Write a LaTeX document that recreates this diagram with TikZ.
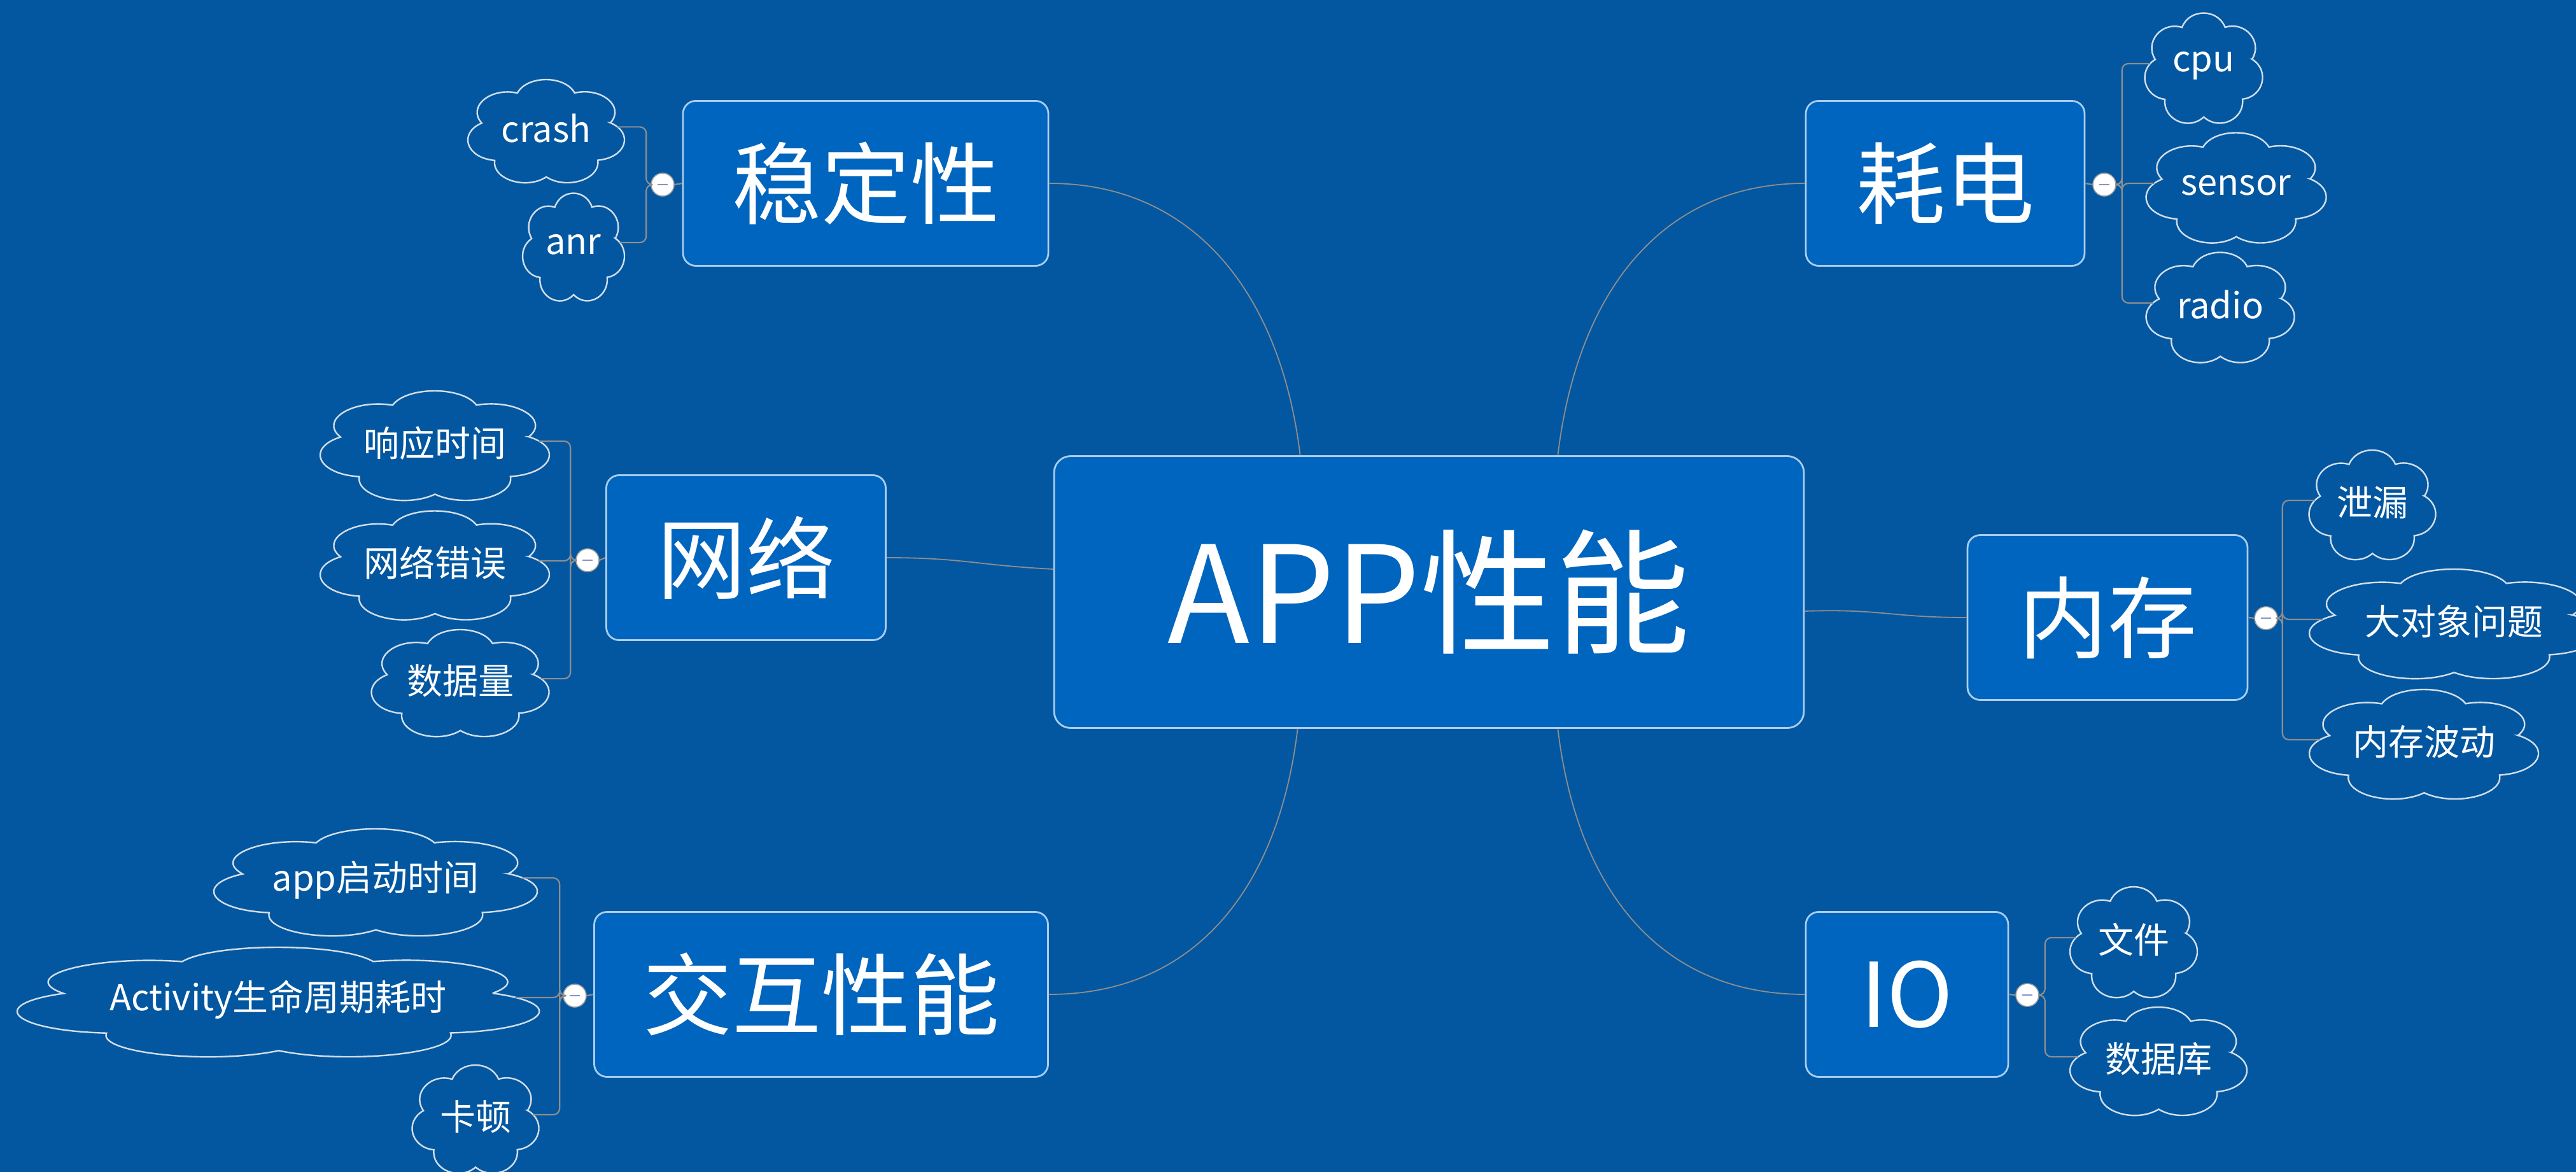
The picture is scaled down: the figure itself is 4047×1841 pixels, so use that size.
\documentclass[tikz,border=0pt]{standalone}
\usepackage{fontspec}
\setmainfont{Noto Sans CJK SC}
\definecolor{bg}{HTML}{0357A0}
\definecolor{boxfill}{HTML}{0065BE}
\definecolor{boxline}{HTML}{A9CDEF}
\definecolor{cloudline}{HTML}{D3DEEA}
\definecolor{conn}{HTML}{8E8E8E}
\definecolor{minuscol}{HTML}{8A93C4}
% #1 name, #2 cx, #3 cy, #4 width px, #5 height px, #6 text
\newcommand{\cloudshape}[6]{%
  \pgfmathsetmacro\clhx{#4/1.969*0.25}%
  \pgfmathsetmacro\clhy{#5/1.939*0.25}%
  \pgfmathsetmacro\cloy{#3+0.01573*#5}%
  \begin{scope}[shift={(#2,\cloy)}, x=\clhx pt, y=\clhy pt]
    \draw[cloudstyle] (13:0.83) \foreach \k in {1,...,7} {
      .. controls +({13+(\k-0.5)*51.4286+20}:0.3579) and +({13+(\k-0.5)*51.4286-20}:0.3579) .. ({13+\k*51.4286}:0.83) } -- cycle;
    \coordinate (#1-e) at (0.894,0.11);
    \coordinate (#1-w) at (-0.894,0.11);
  \end{scope}
  \node[subtext] (#1) at (#2,#3-4) {#6};
}
\begin{document}
\begin{tikzpicture}[x=0.25pt,y=-0.25pt,
  mainbox/.style={draw=boxline, line width=0.7pt, fill=boxfill, rounded corners=6.5pt,
    text=white, inner sep=0pt, minimum width=294.5pt, minimum height=106.75pt,
    font=\fontsize{53}{60}\selectfont},
  topicbox/.style={draw=boxline, line width=0.7pt, fill=boxfill, rounded corners=5pt,
    text=white, inner sep=0pt, minimum height=64.75pt, font=\fontsize{35}{40}\selectfont},
  subtext/.style={text=white, inner sep=0pt, font=\fontsize{14}{16}\selectfont},
  cloudstyle/.style={draw=cloudline, line width=0.6pt},
  toggle/.style={circle, draw=gray!75, fill=white, line width=0.4pt, minimum size=9pt, inner sep=0pt,
    path picture={\draw[minuscol, line width=0.7pt]
      ([xshift=-1.9pt]path picture bounding box.center) -- ([xshift=1.9pt]path picture bounding box.center);}},
  mainconn/.style={draw=conn, line width=0.45pt},
  brk/.style={draw=conn, line width=0.55pt, rounded corners=2.5pt}
]
\useasboundingbox (0,0) rectangle (4047,1841);
\clip (0,0) rectangle (4047,1841);
\fill[bg] (0,0) rectangle (4047,1841);

% central node
\node[mainbox] (c) at (2245,930) {APP性能};

% topic boxes
\node[topicbox, minimum width=143.5pt] (s)  at (1360,288)  {稳定性};
\node[topicbox, minimum width=109.5pt] (h)  at (3056,288)  {耗电};
\node[topicbox, minimum width=109.75pt] (w) at (1172,876)  {网络};
\node[topicbox, minimum width=110pt] (n)    at (3311,970)  {内存};
\node[topicbox, minimum width=178.25pt] (j) at (1290,1562) {交互性能};
\node[topicbox, minimum width=79.5pt] (io)  at (2996,1562) {IO};

% main connectors
\draw[mainconn] (s.east) .. controls +(230,0) and +(-30,-250) .. ([xshift=97pt]c.north west);
\draw[mainconn] (h.west) .. controls +(-230,0) and +(30,-250) .. ([xshift=-97pt]c.north east);
\draw[mainconn] (j.east) .. controls +(230,0) and +(-30,250) .. ([xshift=96pt]c.south west);
\draw[mainconn] (io.west) .. controls +(-230,0) and +(30,250) .. ([xshift=-97pt]c.south east);
\draw[mainconn] (w.east) .. controls +(120,0) and +(-120,-6) .. ([yshift=9pt]c.west);
\draw[mainconn] (n.west) .. controls +(-120,0) and +(120,-4) .. ([yshift=-7.5pt]c.east);

% clouds
\cloudshape{crash}{858}{206}{246}{162}{crash}
\cloudshape{anr}{901}{388}{160}{169}{anr}
\cloudshape{xy}{683}{700}{360}{172}{响应时间}
\cloudshape{wc}{683}{888}{360}{171}{网络错误}
\cloudshape{sjl}{723}{1073}{279}{168}{数据量}
\cloudshape{app}{590}{1386}{508}{168}{app启动时间}
\cloudshape{act}{437}{1574}{820}{172}{Activity生命周期耗时}
\cloudshape{kd}{747}{1758}{199}{170}{卡顿}
\cloudshape{cpu}{3462}{107}{185}{173}{cpu}
\cloudshape{sensor}{3513}{295}{283}{173}{sensor}
\cloudshape{radio}{3488}{483}{233}{173}{radio}
\cloudshape{xl}{3727}{793}{199}{172}{泄漏}
\cloudshape{ddx}{3855}{980}{454}{172}{大对象问题}
\cloudshape{ncbd}{3808}{1169}{360}{172}{内存波动}
\cloudshape{wj}{3352}{1480}{200}{174}{文件}
\cloudshape{sjk}{3391}{1667}{278}{170}{数据库}

% toggles
\node[toggle] (st) at (1041,290) {};
\node[toggle] (wt) at (923,880) {};
\node[toggle] (jt) at (903,1564) {};
\node[toggle] (ht) at (3306,290) {};
\node[toggle] (nt) at (3560,971) {};
\node[toggle] (iot) at (3185,1563) {};

% box to toggle
\draw[brk] (s.west) -- (st.east);
\draw[brk] (w.west) -- (wt.east);
\draw[brk] (j.west) -- (jt.east);
\draw[brk] (h.east) -- (ht.west);
\draw[brk] (n.east) -- (nt.west);
\draw[brk] (io.east) -- (iot.west);

% brackets
\draw[brk] (st.west) -- ++(-7,0) |- (crash-e);
\draw[brk] (st.west) -- ++(-7,0) |- (anr-e);
\draw[brk] (wt.west) -- ++(-8,0) |- (xy-e);
\draw[brk] (wt.west) -- ++(-8,0) |- (wc-e);
\draw[brk] (wt.west) -- ++(-8,0) |- (sjl-e);
\draw[brk] (jt.west) -- ++(-5,0) |- (app-e);
\draw[brk] (jt.west) -- ++(-5,0) |- (act-e);
\draw[brk] (jt.west) -- ++(-5,0) |- (kd-e);
\draw[brk] (ht.east) -- ++(9,0) |- (cpu-w);
\draw[brk] (ht.east) -- ++(9,0) |- (sensor-w);
\draw[brk] (ht.east) -- ++(9,0) |- (radio-w);
\draw[brk] (nt.east) -- ++(7,0) |- (xl-w);
\draw[brk] (nt.east) -- ++(7,0) |- (ddx-w);
\draw[brk] (nt.east) -- ++(7,0) |- (ncbd-w);
\draw[brk] (iot.east) -- ++(9,0) |- (wj-w);
\draw[brk] (iot.east) -- ++(9,0) |- (sjk-w);
\end{tikzpicture}
\end{document}
